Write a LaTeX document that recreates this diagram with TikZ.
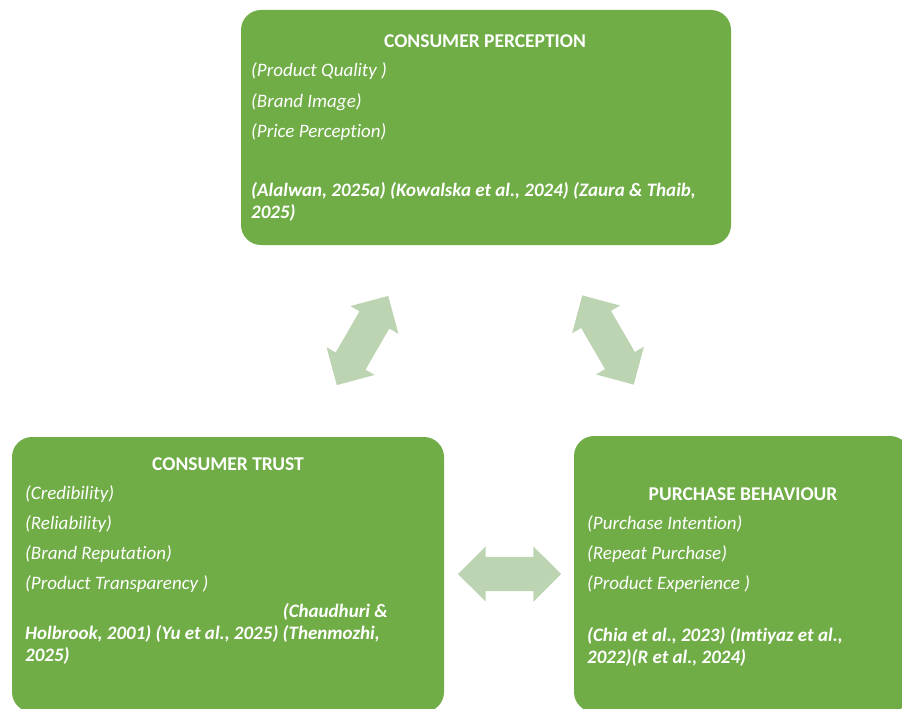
\documentclass[tikz,border=0pt]{standalone}
\usepackage{fontspec}
\setmainfont{Carlito}[Ligatures=NoCommon]
\usetikzlibrary{shapes.arrows}

\definecolor{boxgreen}{HTML}{70AD47}
\definecolor{linkgreen}{HTML}{BCD4B1}

\tikzset{
  box/.style={rounded corners=20, fill=boxgreen, inner sep=0},
  heading/.style={font=\fontsize{19.5}{22}\selectfont\bfseries, text=white, inner sep=0, anchor=base},
  item/.style={font=\itshape, text=white, inner sep=0, anchor=base west},
  cite/.style={font=\bfseries\itshape, text=white, inner sep=0, anchor=base west, align=left},
  link/.style={double arrow, fill=linkgreen, double arrow head extend=10.5,
    double arrow tip angle=90, minimum height=103, minimum width=55,
    inner xsep=0, inner ysep=17}
}

\begin{document}
\begin{tikzpicture}[x=1pt,y=-1pt]
  \useasboundingbox (0,0) rectangle (902,709);
  \fontsize{19}{22}\selectfont

  % boxes
  \node[box, minimum width=490, minimum height=235] (perc) at (486,127.5) {};
  \node[box, minimum width=432, minimum height=275] (trust) at (228,574.5) {};
  \node[box, minimum width=336, minimum height=276] (behav) at (742,574) {};

  % consumer perception
  \node[heading] (perc-t) at (485,48) {CONSUMER PERCEPTION};
  \foreach \t [count=\i] in {{(Product Quality\ )},{(Brand Image)},{(Price Perception)}}
    \node[item] (perc-\i) at (251,{47+30*\i}) {\t};
  \node[cite] (perc-c) at (251,218) {(Alalwan, 2025a) (Kowalska et al., 2024) (Zaura \& Thaib,\\2025)};

  % consumer trust
  \node[heading] (trust-t) at (228,470) {CONSUMER TRUST};
  \foreach \t [count=\i] in {{(Credibility)},{(Reliability)},{(Brand Reputation)},{(Product Transparency\ )}}
    \node[item] (trust-\i) at (25,{469+30*\i}) {\t};
  \node[cite, anchor=base east] (trust-c0) at (388,617) {(Chaudhuri \&};
  \node[cite] (trust-c) at (25,661) {Holbrook, 2001) (Yu et al., 2025) (Thenmozhi,\\2025)};

  % purchase behaviour
  \node[heading] (behav-t) at (743,500) {PURCHASE BEHAVIOUR};
  \foreach \t [count=\i] in {{(Purchase Intention)},{(Repeat Purchase)},{(Product Experience\ )}}
    \node[item] (behav-\i) at (587,{499+30*\i}) {\t};
  \node[cite] (behav-c) at (587,663) {(Chia et al., 2023) (Imtiyaz et al.,\\2022)(R et al., 2024)};

  % links
  \node[link, rotate=60] (link-pt) at (362.5,340.5) {};
  \node[link, rotate=-60] (link-pb) at (608,340) {};
  \node[link] (link-tb) at (509.5,574) {};
\end{tikzpicture}
\end{document}
